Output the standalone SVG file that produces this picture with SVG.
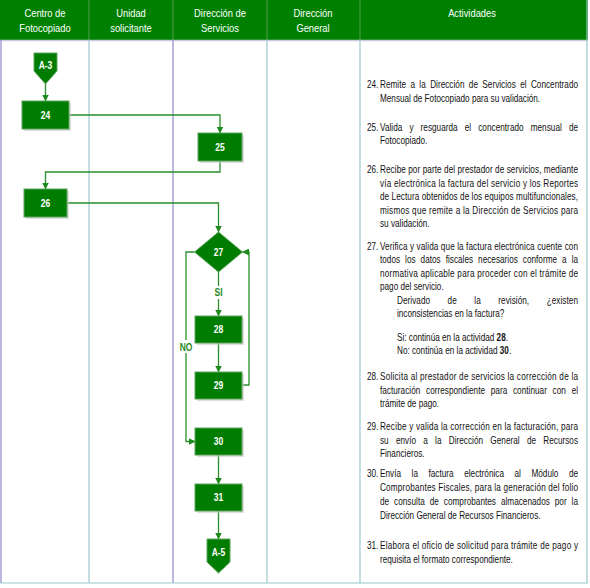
<svg xmlns="http://www.w3.org/2000/svg" width="590" height="588" viewBox="0 0 590 588">
<style>
.hd{font-family:"Liberation Sans",Arial,sans-serif;font-size:11px;fill:#ffffff;text-anchor:middle}
.nl{font-family:"Liberation Sans",Arial,sans-serif;font-size:10px;font-weight:bold;fill:#ffffff;text-anchor:middle}
.lb{font-family:"Liberation Sans",Arial,sans-serif;font-size:10px;font-weight:bold;fill:#1e8a1e;text-anchor:middle}
.act{font-family:"Liberation Sans",Arial,sans-serif;font-size:10px;fill:#111111}
.box{fill:#007d00;stroke:#5aa55a;stroke-width:1}
.sh{fill:#c8c8c8;opacity:0.6}
.con{fill:none;stroke:#2a8f2a;stroke-width:1.3}
.tl{stroke:#9cc9cf;stroke-width:1.2}
.pl{stroke:#8f88cc;stroke-width:1.2}
</style>
<defs>
<marker id="ah" markerWidth="7" markerHeight="7" refX="6.5" refY="3.5" orient="auto" markerUnits="userSpaceOnUse">
<path d="M0,0 L7,3.5 L0,7 Z" fill="#1e8a1e"/>
</marker>
</defs>

<g id="table">
<rect x="0" y="0" width="588" height="40" fill="#008000"/>
<line x1="89" y1="0" x2="89" y2="40" stroke="#4fa04f" stroke-width="1"/>
<line x1="173" y1="0" x2="173" y2="40" stroke="#4fa04f" stroke-width="1"/>
<line x1="267" y1="0" x2="267" y2="40" stroke="#4fa04f" stroke-width="1"/>
<line x1="360" y1="0" x2="360" y2="40" stroke="#4fa04f" stroke-width="1"/>
<line x1="0" y1="40.5" x2="588" y2="40.5" stroke="#c9c9e0" stroke-width="1.5"/>
<line class="pl" x1="1" y1="40" x2="1" y2="583"/>
<line class="tl" x1="89" y1="40" x2="89" y2="583"/>
<line class="pl" x1="173" y1="40" x2="173" y2="583"/>
<line class="tl" x1="267" y1="40" x2="267" y2="583"/>
<line class="tl" x1="360" y1="40" x2="360" y2="583"/>
<line class="tl" x1="587" y1="0" x2="587" y2="583"/>
<line class="tl" x1="0" y1="583" x2="588" y2="583" stroke-width="1.6"/>
<text class="hd" transform="translate(45,17) scale(0.85,1)">Centro de</text>
<text class="hd" transform="translate(45,32) scale(0.85,1)">Fotocopiado</text>
<text class="hd" transform="translate(131,17) scale(0.85,1)">Unidad</text>
<text class="hd" transform="translate(131,32) scale(0.85,1)">solicitante</text>
<text class="hd" transform="translate(220,17) scale(0.85,1)">Dirección de</text>
<text class="hd" transform="translate(220,32) scale(0.85,1)">Servicios</text>
<text class="hd" transform="translate(313,17) scale(0.85,1)">Dirección</text>
<text class="hd" transform="translate(313,32) scale(0.85,1)">General</text>
<text class="hd" transform="translate(472,17) scale(0.85,1)">Actividades</text>
</g>

<g id="connectors">
<path class="con" d="M45.5,84 V101" marker-end="url(#ah)"/>
<path class="con" d="M69,115 H220 V133" marker-end="url(#ah)"/>
<path class="con" d="M220,161 V172 H45.5 V189" marker-end="url(#ah)"/>
<path class="con" d="M67,203 H218.5 V232" marker-end="url(#ah)"/>
<path class="con" d="M218.5,272 V316" marker-end="url(#ah)"/>
<path class="con" d="M218.5,343 V372" marker-end="url(#ah)"/>
<path class="con" d="M242,385 H249 V252 H242.5" marker-end="url(#ah)"/>
<path class="con" d="M194.5,252 H186 V441.5 H195" marker-end="url(#ah)"/>
<path class="con" d="M218.5,455 V484" marker-end="url(#ah)"/>
<path class="con" d="M218.5,511 V539" marker-end="url(#ah)"/>
<rect x="209" y="286" width="19" height="13" fill="#ffffff"/>
<text class="lb" transform="translate(218.5,296) scale(0.85,1)">SI</text>
<rect x="176" y="340" width="20" height="13" fill="#ffffff"/>
<text class="lb" transform="translate(186,350.5) scale(0.85,1)">NO</text>
</g>

<g id="nA3">
<polygon points="34,53 57,53 57,71 45.5,84 34,71" class="box"/>
<text class="nl" transform="translate(45.5,68.5) scale(0.85,1)">A-3</text>
</g>
<g id="n24">
<rect class="sh" x="24" y="103" width="47" height="28"/>
<rect class="box" x="22" y="101" width="47" height="28"/>
<text class="nl" transform="translate(45.5,118.5) scale(0.85,1)">24</text>
</g>
<g id="n25">
<rect class="sh" x="200" y="135" width="44" height="28"/>
<rect class="box" x="198" y="133" width="44" height="28"/>
<text class="nl" transform="translate(220,150.5) scale(0.85,1)">25</text>
</g>
<g id="n26">
<rect class="sh" x="26" y="191" width="43" height="28"/>
<rect class="box" x="24" y="189" width="43" height="28"/>
<text class="nl" transform="translate(45.5,206.5) scale(0.85,1)">26</text>
</g>
<g id="n27">
<polygon class="box" points="218.5,232 242.5,252 218.5,272 194.5,252"/>
<text class="nl" transform="translate(218.5,255.5) scale(0.85,1)">27</text>
</g>
<g id="n28">
<rect class="sh" x="197" y="318" width="47" height="27"/>
<rect class="box" x="195" y="316" width="47" height="27"/>
<text class="nl" transform="translate(218.5,333) scale(0.85,1)">28</text>
</g>
<g id="n29">
<rect class="sh" x="197" y="374" width="47" height="27"/>
<rect class="box" x="195" y="372" width="47" height="27"/>
<text class="nl" transform="translate(218.5,389) scale(0.85,1)">29</text>
</g>
<g id="n30">
<rect class="sh" x="197" y="430" width="47" height="27"/>
<rect class="box" x="195" y="428" width="47" height="27"/>
<text class="nl" transform="translate(218.5,445) scale(0.85,1)">30</text>
</g>
<g id="n31">
<rect class="sh" x="197" y="486" width="47" height="27"/>
<rect class="box" x="195" y="484" width="47" height="27"/>
<text class="nl" transform="translate(218.5,501) scale(0.85,1)">31</text>
</g>
<g id="nA5">
<polygon points="207,539 230,539 230,562 218.5,573 207,562" class="box"/>
<text class="nl" transform="translate(218.5,556) scale(0.85,1)">A-5</text>
</g>

<g id="activities" class="act" transform="translate(380,0) scale(0.82,1)">
<text x="-15.85" y="88.5">24.</text>
<text x="0" y="88.5" textLength="241.5" lengthAdjust="spacing" word-spacing="2.5">Remite a la Dirección de Servicios el Concentrado</text>
<text x="0" y="102">Mensual de Fotocopiado para su validación.</text>

<text x="-15.85" y="131">25.</text>
<text x="0" y="131" textLength="241.5" lengthAdjust="spacing" word-spacing="5.8">Valida y resguarda el concentrado mensual de</text>
<text x="0" y="144.5">Fotocopiado.</text>

<text x="-15.85" y="173.5">26.</text>
<text x="0" y="173.5" textLength="241.5" lengthAdjust="spacing">Recibe por parte del prestador de servicios, mediante</text>
<text x="0" y="187" textLength="241.5" lengthAdjust="spacing">vía electrónica la factura del servicio y los Reportes</text>
<text x="0" y="200.5" textLength="241.5" lengthAdjust="spacing">de Lectura obtenidos de los equipos multifuncionales,</text>
<text x="0" y="214" textLength="241.5" lengthAdjust="spacing">mismos que remite a la Dirección de Servicios para</text>
<text x="0" y="227.5">su validación.</text>

<text x="-15.85" y="250">27.</text>
<text x="0" y="250" textLength="241.5" lengthAdjust="spacing">Verifica y valida que la factura electrónica cuente con</text>
<text x="0" y="263.5" textLength="241.5" lengthAdjust="spacing" word-spacing="3.3">todos los datos fiscales necesarios conforme a la</text>
<text x="0" y="277" textLength="241.5" lengthAdjust="spacing">normativa aplicable para proceder con el trámite de</text>
<text x="0" y="290.5">pago del servicio.</text>
<text x="20.7" y="304" textLength="220.7" lengthAdjust="spacing" word-spacing="18.5">Derivado de la revisión, ¿existen</text>
<text x="20.7" y="317.5">inconsistencias en la factura?</text>
<text x="20.7" y="341">Si: continúa en la actividad <tspan font-weight="bold">28</tspan>.</text>
<text x="20.7" y="354.5">No: continúa en la actividad <tspan font-weight="bold">30</tspan>.</text>

<text x="-15.85" y="380.5">28.</text>
<text x="0" y="380.5" textLength="241.5" lengthAdjust="spacing">Solicita al prestador de servicios la corrección de la</text>
<text x="0" y="394" textLength="241.5" lengthAdjust="spacing" word-spacing="4.2">facturación correspondiente para continuar con el</text>
<text x="0" y="407.5">trámite de pago.</text>

<text x="-15.85" y="430.5">29.</text>
<text x="0" y="430.5" textLength="241.5" lengthAdjust="spacing">Recibe y valida la corrección en la facturación, para</text>
<text x="0" y="444" textLength="241.5" lengthAdjust="spacing" word-spacing="6">su envío a la Dirección General de Recursos</text>
<text x="0" y="457.5">Financieros.</text>

<text x="-15.85" y="477.5">30.</text>
<text x="0" y="477.5" textLength="241.5" lengthAdjust="spacing" word-spacing="10">Envía la factura electrónica al Módulo de</text>
<text x="0" y="491.5" textLength="241.5" lengthAdjust="spacing">Comprobantes Fiscales, para la generación del folio</text>
<text x="0" y="505.5" textLength="241.5" lengthAdjust="spacing" word-spacing="3.2">de consulta de comprobantes almacenados por la</text>
<text x="0" y="519.5">Dirección General de Recursos Financieros.</text>

<text x="-15.85" y="549">31.</text>
<text x="0" y="549" textLength="241.5" lengthAdjust="spacing">Elabora el oficio de solicitud para trámite de pago y</text>
<text x="0" y="563">requisita el formato correspondiente.</text>
</g>
</svg>
